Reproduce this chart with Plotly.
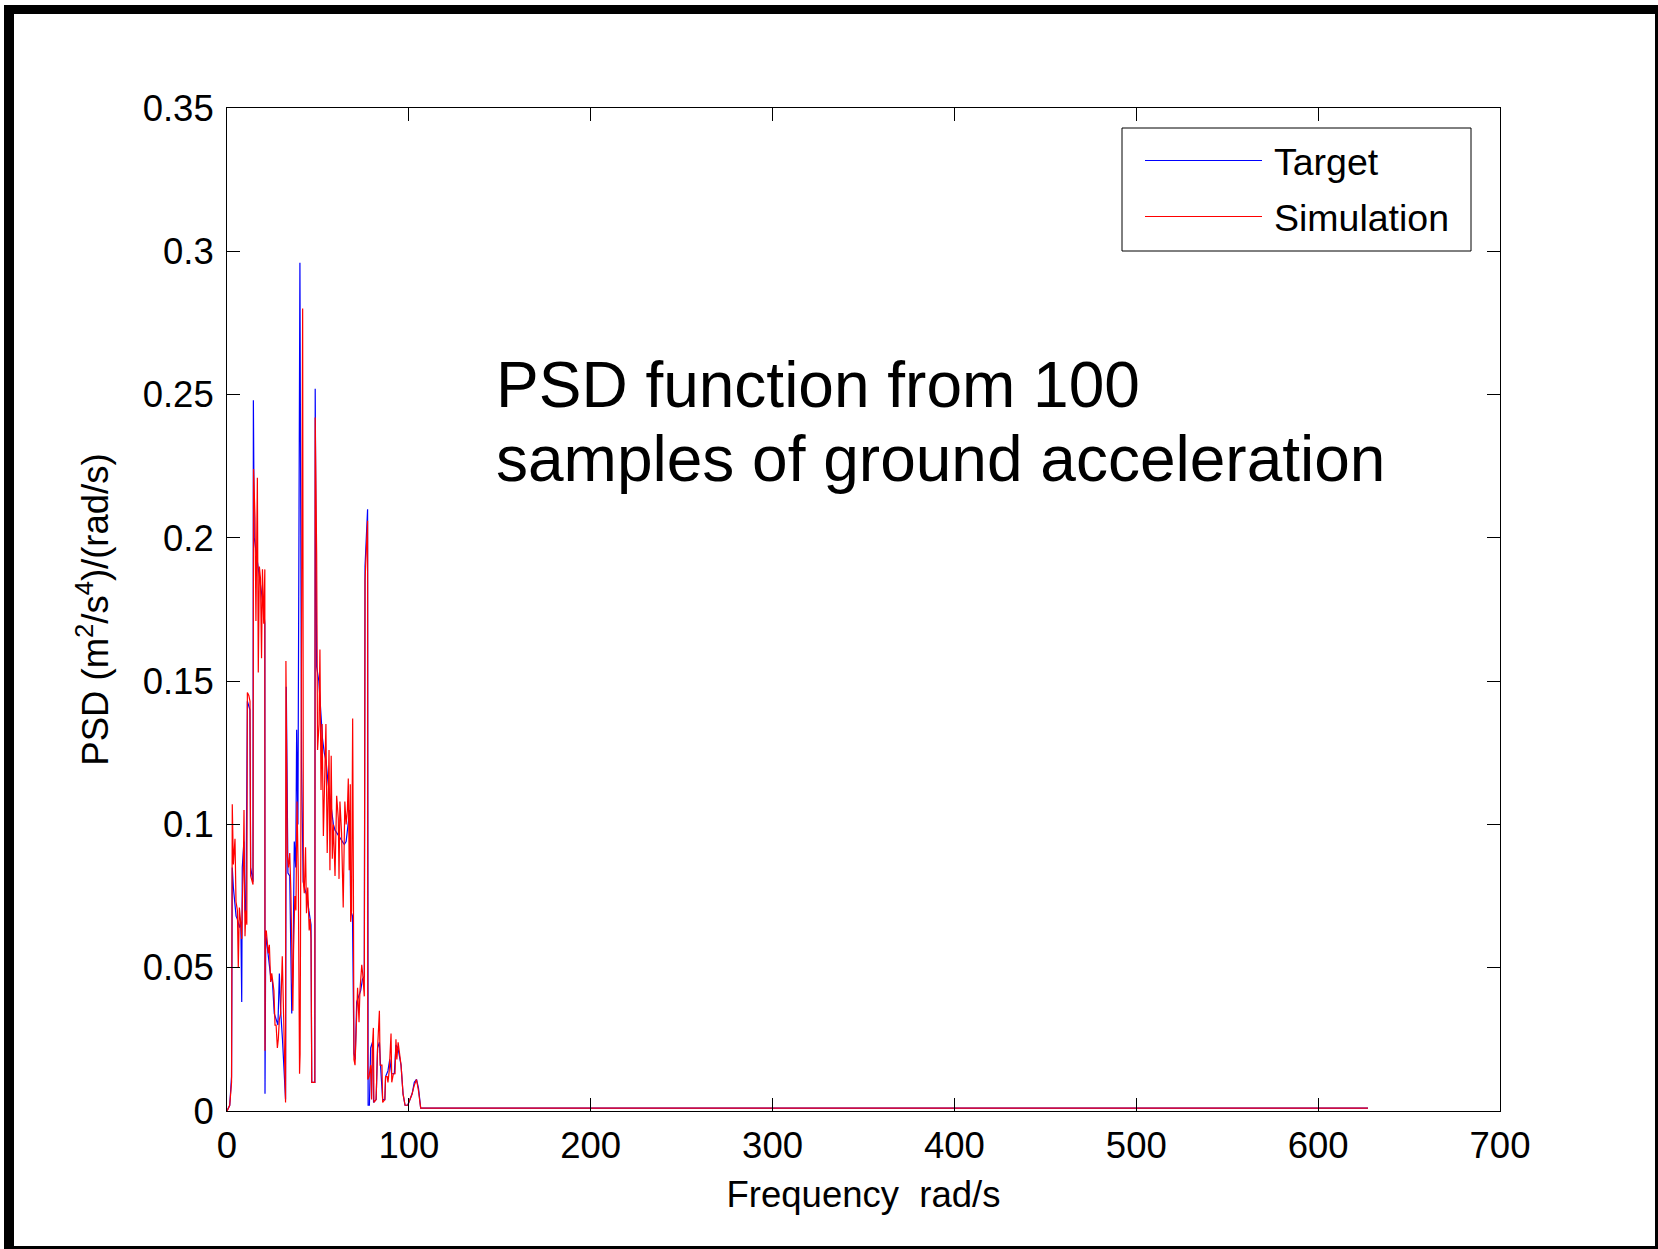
import plotly.graph_objects as go

# ---------------- data ----------------
freq_target = [0, 1.5, 2.5, 2.9, 3.5, 4.4, 5.0, 5.7, 6.8, 7.6, 8.1, 8.4, 9.3, 9.9, 10.4,
               11.2, 12.6, 13.0, 14.3, 14.5, 15.0, 16.0, 17.0, 18.0, 19.0, 20.0, 20.8,
               20.9, 21.3, 22.0, 23.0, 24.0, 25.0, 26.0, 27.0, 28.0, 28.8, 29.5, 30.5,
               31.5, 32.2, 32.6, 33.5, 34.5, 35.6, 36.3, 37.0, 37.8, 38.3, 39.0, 40.1,
               41.0, 41.9, 43.0, 44.0, 45.0, 46.2, 46.6, 48.3, 48.5, 49.3, 50.5, 51.5,
               52.5, 53.5, 54.5, 55.5, 56.5, 57.5, 58.5, 59.4, 60.5, 61.5, 62.5, 63.5,
               64.5, 65.5, 66.5, 67.5, 68.0, 69.0, 69.8, 70.5, 71.3, 72.5, 73.5, 74.5,
               75.5, 75.9, 77.3, 77.6, 78.3, 79.0, 80.0, 80.6, 82.0, 82.8, 83.8, 84.5,
               85.6, 86.8, 87.2, 88.5, 89.5, 90.5, 92.0, 92.9, 94.0, 95.7, 96.8, 97.9,
               99.4, 100.6, 101.8, 103.0, 104.2, 105.3, 106.5, 627.4]
psd_target = [0, 0.002, 0.012, 0.085, 0.078, 0.072, 0.068, 0.067, 0.064, 0.066, 0.038,
              0.085, 0.094, 0.07, 0.068, 0.143, 0.14, 0.085, 0.08, 0.248, 0.2, 0.195,
              0.19, 0.186, 0.182, 0.176, 0.17, 0.006, 0.062, 0.058, 0.052, 0.047, 0.045,
              0.034, 0.032, 0.03, 0.048, 0.035, 0.025, 0.012, 0.004, 0.148, 0.083, 0.082,
              0.034, 0.05, 0.094, 0.085, 0.133, 0.1, 0.296, 0.12, 0.08, 0.077, 0.075,
              0.07, 0.065, 0.01, 0.01, 0.252, 0.155, 0.15, 0.14, 0.13, 0.125, 0.122,
              0.115, 0.11, 0.106, 0.1, 0.098, 0.097, 0.096, 0.095, 0.094, 0.093, 0.094,
              0.1, 0.105, 0.07, 0.068, 0.02, 0.018, 0.038, 0.04, 0.042, 0.046, 0.047,
              0.19, 0.21, 0.002, 0.002, 0.022, 0.024, 0.003, 0.004, 0.022, 0.024, 0.015,
              0.004, 0.004, 0.012, 0.014, 0.018, 0.013, 0.013, 0.023, 0.022, 0.016,
              0.006, 0.002, 0.002, 0.004, 0.006, 0.01, 0.011, 0.008, 0.001, 0.001]

freq_sim = [0, 1.5, 2.5, 2.9, 3.5, 4.4, 4.95, 5.7, 6.2, 6.8, 7.5, 8.1, 8.4, 9.0, 9.35,
            9.9, 10.4, 10.9, 11.2, 12.0, 12.65, 13.0, 14.3, 14.6, 15.4, 15.9, 16.7, 17.2,
            17.8, 18.4, 19.0, 19.5, 20.2, 20.8, 20.9, 21.1, 21.6, 22.2, 22.7, 23.3, 24.0,
            24.6, 25.2, 25.8, 26.4, 27.0, 27.7, 28.2, 28.8, 29.5, 30.4, 31.3, 32.2, 32.4,
            33.2, 33.8, 34.5, 35.1, 35.6, 36.2, 36.6, 37.3, 37.9, 38.5, 39.2, 39.9, 40.2,
            41.6, 42.0, 42.5, 43.2, 43.7, 44.4, 45.2, 45.7, 46.2, 46.6, 48.3, 48.5, 49.3,
            49.8, 50.6, 51.1, 51.7, 52.3, 53.0, 53.8, 54.4, 55.1, 56.1, 56.6, 57.3, 57.9,
            58.5, 59.4, 60.3, 61.2, 61.6, 62.1, 63.0, 63.9, 64.8, 65.5, 66.2, 66.7, 67.2,
            67.8, 68.0, 68.5, 69.1, 69.5, 69.8, 70.4, 71.3, 71.8, 72.6, 73.1, 74.1, 74.6,
            75.5, 75.9, 77.3, 77.4, 78.1, 79.0, 79.5, 79.9, 80.5, 80.8, 82.0, 82.8, 83.8,
            84.2, 85.2, 85.6, 86.8, 87.2, 88.1, 88.5, 89.2, 90.2, 90.6, 91.5, 92.4, 92.9,
            93.4, 94.1, 95.7, 96.8, 97.9, 99.4, 100.6, 101.8, 103.0, 104.2, 105.3, 106.5,
            627.4]
psd_sim = [0, 0.002, 0.01, 0.107, 0.086, 0.095, 0.073, 0.07, 0.05, 0.071, 0.066, 0.06,
           0.072, 0.086, 0.105, 0.061, 0.07, 0.065, 0.146, 0.145, 0.143, 0.082, 0.079,
           0.224, 0.207, 0.171, 0.221, 0.153, 0.19, 0.186, 0.158, 0.189, 0.17, 0.189,
           0.021, 0.061, 0.063, 0.058, 0.055, 0.058, 0.045, 0.048, 0.045, 0.042, 0.03,
           0.03, 0.022, 0.025, 0.032, 0.034, 0.054, 0.027, 0.003, 0.157, 0.089, 0.085,
           0.09, 0.077, 0.06, 0.035, 0.056, 0.075, 0.07, 0.108, 0.082, 0.013, 0.02, 0.28,
           0.08, 0.076, 0.092, 0.069, 0.078, 0.063, 0.067, 0.06, 0.01, 0.01, 0.242,
           0.194, 0.126, 0.135, 0.161, 0.112, 0.135, 0.096, 0.114, 0.135, 0.09, 0.126,
           0.084, 0.124, 0.088, 0.1, 0.082, 0.11, 0.102, 0.081, 0.108, 0.097, 0.071,
           0.108, 0.1, 0.105, 0.116, 0.084, 0.114, 0.066, 0.07, 0.137, 0.08, 0.018,
           0.016, 0.037, 0.043, 0.031, 0.042, 0.051, 0.048, 0.04, 0.185, 0.206, 0.011,
           0.012, 0.016, 0.004, 0.022, 0.029, 0.003, 0.004, 0.022, 0.035, 0.016, 0.016,
           0.003, 0.004, 0.012, 0.012, 0.01, 0.014, 0.027, 0.01, 0.013, 0.013, 0.025,
           0.018, 0.024, 0.016, 0.006, 0.002, 0.002, 0.004, 0.006, 0.009, 0.011, 0.007,
           0.001, 0.001]

series_names = ["Target", "Simulation"]
x_ticks = [0, 100, 200, 300, 400, 500, 600, 700]
y_ticks = [0, 0.05, 0.1, 0.15, 0.2, 0.25, 0.3, 0.35]
title_lines = ["PSD function from 100", "samples of ground acceleration"]

# ---------------- layout geometry (pixels) ----------------
W, H = 1658, 1249
PL, PR, PT, PB = 227, 1500, 108, 1111   # plot area edges


def px(x):
    return (x - PL) / (PR - PL)


def py(y):
    return (PB - y) / (PB - PT)


FONT = "Liberation Sans, Arial, Helvetica, sans-serif"
BLUE = "#0000ff"
RED = "#ff0000"

fig = go.Figure()
fig.add_trace(go.Scatter(x=freq_target, y=psd_target, mode="lines", name=series_names[0],
                         line=dict(color=BLUE, width=1.2), showlegend=False))
fig.add_trace(go.Scatter(x=freq_sim, y=psd_sim, mode="lines", name=series_names[1],
                         line=dict(color=RED, width=1.2), showlegend=False))

axis_common = dict(showline=True, linecolor="black", linewidth=1, mirror="ticks",
                   ticks="inside", ticklen=13, tickcolor="black", tickwidth=1,
                   showgrid=False, zeroline=False,
                   tickfont=dict(family=FONT, size=36.5, color="black"))

fig.update_xaxes(range=[0, 700], tickvals=x_ticks, ticktext=[str(v) for v in x_ticks],
                 ticklabelstandoff=2,
                 title=dict(text="Frequency\u00a0 rad/s\u00a0", font=dict(family=FONT, size=36.5, color="black"),
                            standoff=16),
                 **axis_common)
fig.update_yaxes(range=[0, 0.35], tickvals=y_ticks,
                 ticktext=["0", "0.05", "0.1", "0.15", "0.2", "0.25", "0.3", "0.35"],
                 ticklabelstandoff=5,
                 title=dict(text="PSD (m<sup>2</sup>/s<sup>4</sup>)/(rad/s)",
                            font=dict(family=FONT, size=36.5, color="black"), standoff=22),
                 **axis_common)

shapes = []
# outer frame (thick top/left, thin right/bottom)
for (x0, y0, x1, y1) in [(4, 5, 1658, 14), (4, 5, 14, 1249), (1655, 5, 1658, 1249), (4, 1246, 1658, 1249)]:
    shapes.append(dict(type="rect", xref="paper", yref="paper", x0=px(x0), x1=px(x1),
                       y0=py(y0), y1=py(y1), fillcolor="black", line=dict(width=0)))
# legend box
shapes.append(dict(type="rect", xref="paper", yref="paper", x0=px(1122), x1=px(1471),
                   y0=py(128), y1=py(251), fillcolor="white", line=dict(color="black", width=1)))
# legend line samples
for yy, col in [(160.5, BLUE), (216.5, RED)]:
    shapes.append(dict(type="line", xref="paper", yref="paper", x0=px(1145), x1=px(1262),
                       y0=py(yy), y1=py(yy), line=dict(color=col, width=1)))

annotations = []
for yy, name in [(162, series_names[0]), (217.5, series_names[1])]:
    annotations.append(dict(xref="paper", yref="paper", x=px(1272), y=py(yy), xanchor="left",
                            yanchor="middle", text=name, showarrow=False,
                            font=dict(family=FONT, size=37.5, color="black")))
for yy, line in [(385, title_lines[0]), (459, title_lines[1])]:
    annotations.append(dict(xref="paper", yref="paper", x=px(494), y=py(yy), xanchor="left",
                            yanchor="middle", text=line, showarrow=False,
                            font=dict(family=FONT, size=64, color="black")))

fig.update_layout(width=W, height=H, autosize=False,
                  margin=dict(l=PL, r=W - PR, t=PT, b=H - PB, pad=0),
                  paper_bgcolor="white", plot_bgcolor="white",
                  shapes=shapes, annotations=annotations, showlegend=False)

fig.write_html("out.html")
